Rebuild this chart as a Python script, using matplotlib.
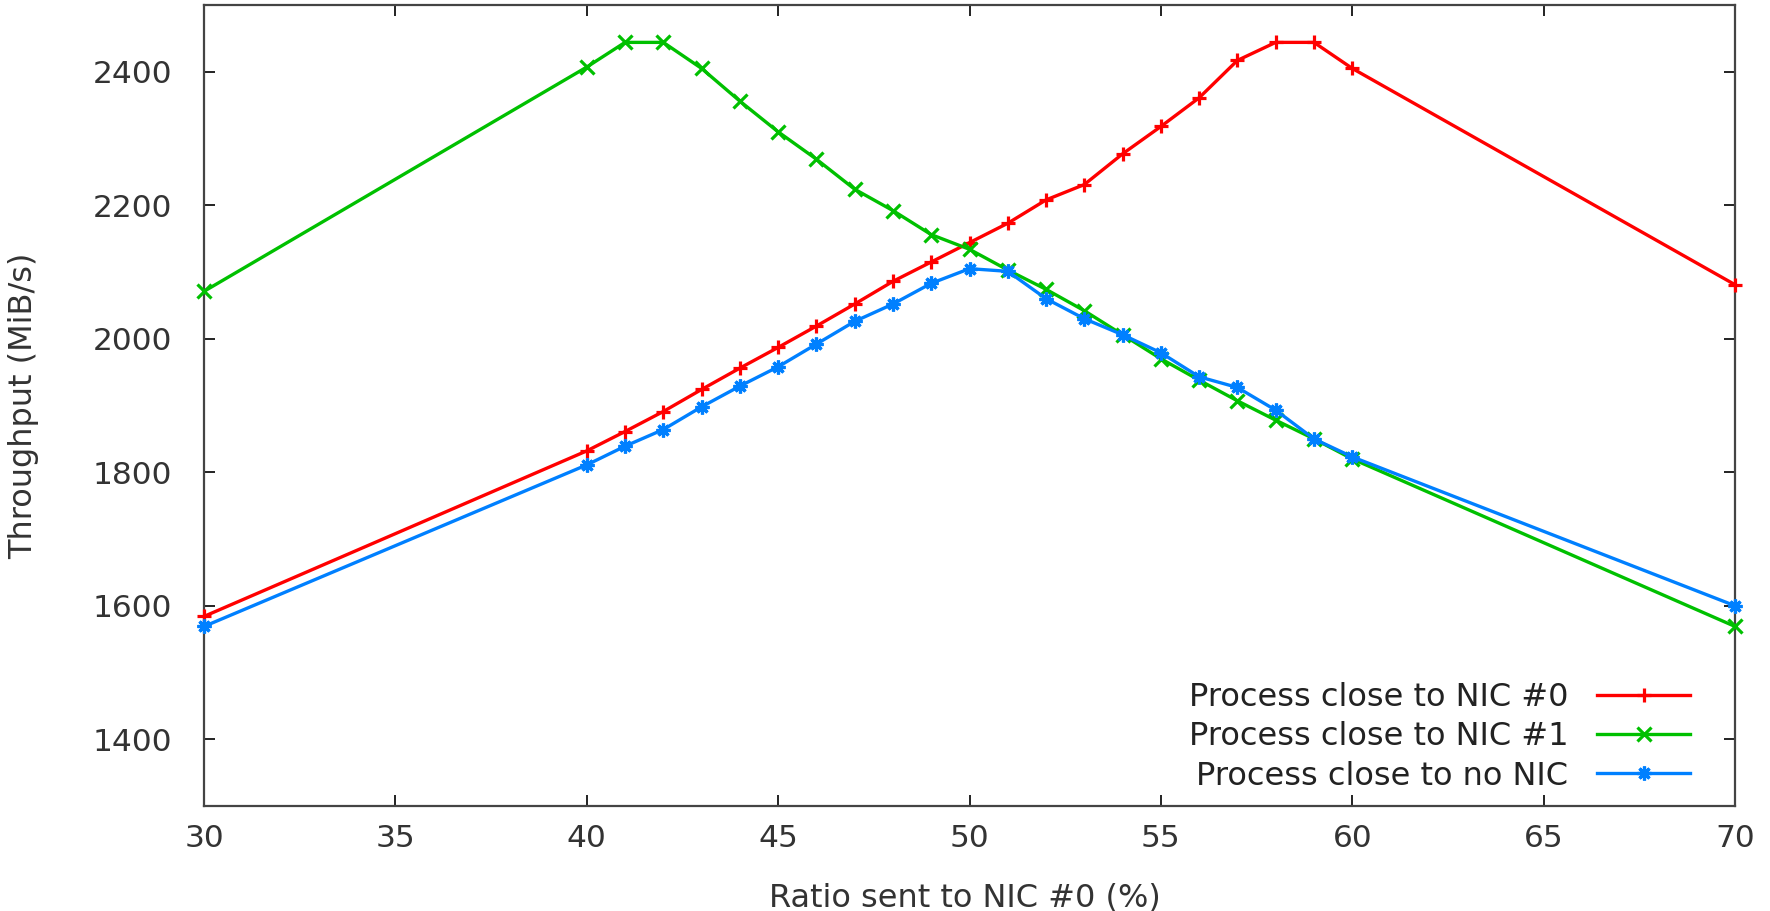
import matplotlib
matplotlib.use("Agg")
import matplotlib.pyplot as plt

x_vals = [30, 40, 41, 42, 43, 44, 45, 46, 47, 48, 49, 50, 51, 52, 53, 54, 55, 56, 57, 58, 59, 60, 70]

nic0 = [1584, 1832, 1861, 1891, 1924, 1956, 1987, 2019, 2052, 2086, 2115, 2144,
        2173, 2208, 2231, 2277, 2318, 2361, 2417, 2444, 2444, 2405, 2081]
nic1 = [2071, 2407, 2444, 2444, 2405, 2356, 2310, 2269, 2224, 2192, 2156, 2134,
        2103, 2074, 2042, 2006, 1970, 1938, 1907, 1878, 1850, 1820, 1569]
nonic = [1569, 1811, 1839, 1864, 1898, 1929, 1958, 1992, 2026, 2052, 2083, 2105,
         2101, 2060, 2030, 2006, 1979, 1943, 1927, 1893, 1850, 1823, 1600]

labels = ["Process close to NIC #0", "Process close to NIC #1", "Process close to no NIC"]
colors = ["#ff0000", "#00c000", "#0080ff"]
markers = ["+", "x", (8, 2, 0)]

x_ticks = [30, 35, 40, 45, 50, 55, 60, 65, 70]
y_ticks = [1400, 1600, 1800, 2000, 2200, 2400]

fig = plt.figure(figsize=(17.70, 9.11), dpi=100)
ax = fig.add_axes([204 / 1770, 1 - 806 / 911, (1735 - 204) / 1770, (806 - 5) / 911])

for ys, lab, c, m in zip([nic0, nic1, nonic], labels, colors, markers):
    ax.plot(x_vals, ys, color=c, marker=m, markersize=10, markeredgewidth=2.3,
            linewidth=2.4, label=lab, clip_on=False, zorder=3)

ax.set_xlim(30, 70)
ax.set_ylim(1300, 2500)
ax.set_xticks(x_ticks)
ax.set_yticks(y_ticks)

for s in ax.spines.values():
    s.set_color("#444444")
    s.set_linewidth(1.6)

ax.tick_params(direction="in", length=8, width=1.4, color="#222222",
               top=True, right=True, labelsize=22.5, labelcolor="#333333")
ax.tick_params(axis="y", pad=23)
ax.tick_params(axis="x", pad=13)

ax.set_xlabel("Ratio sent to NIC #0 (%)", fontsize=23, color="#333333")
ax.set_ylabel("Throughput (MiB/s)", fontsize=23, color="#333333")
ax.xaxis.set_label_coords(0.497, -0.115)
ax.xaxis.label.set_verticalalignment("center")
ax.yaxis.set_label_coords(-0.118, 0.5)
ax.yaxis.label.set_verticalalignment("center")

leg = ax.legend(loc="lower right", bbox_to_anchor=(0.9705, 0.018), frameon=False,
                markerfirst=False, fontsize=23, handlelength=2.9, labelspacing=0.26,
                borderaxespad=0, borderpad=0, handletextpad=0.9, alignment="right")
for t in leg.get_texts():
    t.set_ha("right")
    t.set_color("#222222")

fig.savefig("out.png", dpi=100)
